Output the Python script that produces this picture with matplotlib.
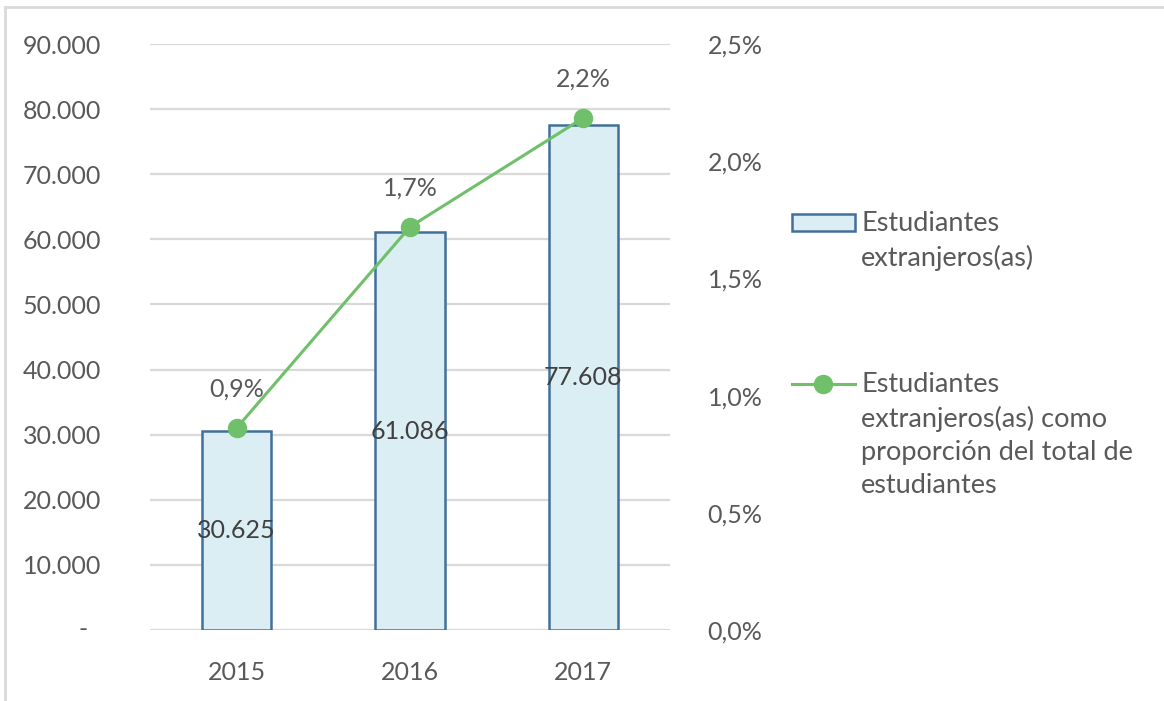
import numpy as np
import matplotlib
matplotlib.use("Agg")
import matplotlib.pyplot as plt
from matplotlib.patches import Rectangle
from matplotlib.lines import Line2D
from matplotlib.ticker import FuncFormatter

# datos
anios = ["2015", "2016", "2017"]
estudiantes = [30625, 61086, 77608]
proporcion = [0.862, 1.72, 2.185]   # %
etiq_prop = ["0,9%", "1,7%", "2,2%"]
ticks_izq = np.arange(0, 90001, 10000)
ticks_der = [0.0, 0.5, 1.0, 1.5, 2.0, 2.5]

plt.rcParams['font.family'] = ['Lato', 'DejaVu Sans']
gris = "#595959"
fs = 18
fs_ley = 19.5

fig = plt.figure(figsize=(11.64, 7.01), dpi=100)
ax = fig.add_axes([0.1289, 0.1013, 0.4467, 0.8359])
ax2 = ax.twinx()

x = np.arange(len(anios))
barras = ax.bar(x, estudiantes, width=0.4, color="#DAEEF3", edgecolor="#41709C",
                linewidth=1.8, zorder=3)
for xi, v in zip(x, estudiantes):
    ax.text(xi, v / 2, f"{v:,}".replace(",", "."), ha="center", va="center",
            fontsize=fs, color="#404040", zorder=4)

ax.set_xlim(-0.5, 2.5)
ax.set_ylim(0, 90000)
ax.set_yticks(ticks_izq)
ax.yaxis.set_major_formatter(FuncFormatter(
    lambda v, p: "" if v == 0 else f"{int(v):,}".replace(",", ".")))
# el cero va como guion (formato contable), algo separado del resto
ax.annotate("-", xy=(0, 0), xycoords=("axes fraction", "data"), xytext=(-67, 0),
            textcoords="offset pixels", ha="center", va="center", fontsize=fs,
            color=gris, annotation_clip=False)
ax.set_xticks(x)
ax.set_xticklabels(anios)
ax.grid(axis="y", color="#D9D9D9", linewidth=1.6, zorder=0)
ax.set_axisbelow(True)
for s in ax.spines.values():
    s.set_visible(False)
for s in ax2.spines.values():
    s.set_visible(False)
ax.tick_params(axis="y", length=0, pad=35, labelsize=fs, labelcolor=gris)
ax.tick_params(axis="x", length=0, pad=22, labelsize=fs, labelcolor=gris)

ax2.plot(x, proporcion, color="#70BF6A", linewidth=2.2, marker="o", markersize=13,
         zorder=5)
for xi, v, t in zip(x, proporcion, etiq_prop):
    ax2.annotate(t, (xi, v), xytext=(0, 28), textcoords="offset points",
                 ha="center", va="center", fontsize=fs, color=gris)
ax2.set_ylim(0, 2.5)
ax2.set_yticks(ticks_der)
ax2.yaxis.set_major_formatter(FuncFormatter(lambda v, p: f"{v:.1f}%".replace(".", ",")))
ax2.tick_params(axis="y", length=0, pad=27, labelsize=fs, labelcolor=gris)

# leyenda
W, H = 1164, 701
def fx(px):
    return px / W
def fy(py):
    return 1 - py / H

fig.patches.append(Rectangle((fx(792), fy(231)), fx(63), 17 / H, transform=fig.transFigure,
                             facecolor="#DAEEF3", edgecolor="#41709C", linewidth=1.8))
fig.text(fx(861), fy(211), "Estudiantes\nextranjeros(as)", fontsize=fs_ley, color=gris,
         va="top", ha="left", linespacing=1.4, transform=fig.transFigure)
fig.lines.append(Line2D([fx(792), fx(855)], [fy(384), fy(384)], transform=fig.transFigure,
                        color="#70BF6A", linewidth=2.2))
fig.lines.append(Line2D([fx(823)], [fy(384)], transform=fig.transFigure, color="#70BF6A",
                        marker="o", markersize=13))
fig.text(fx(861), fy(372), "Estudiantes\nextranjeros(as) como\nproporción del total de\nestudiantes",
         fontsize=fs_ley, color=gris, va="top", ha="left", linespacing=1.4,
         transform=fig.transFigure)

# marco
fig.patches.append(Rectangle((fx(5), -0.05), 1.1, fy(7) + 0.05, transform=fig.transFigure,
                             facecolor="none", edgecolor="#D9D9D9", linewidth=2))

fig.savefig("out.png", dpi=100)
